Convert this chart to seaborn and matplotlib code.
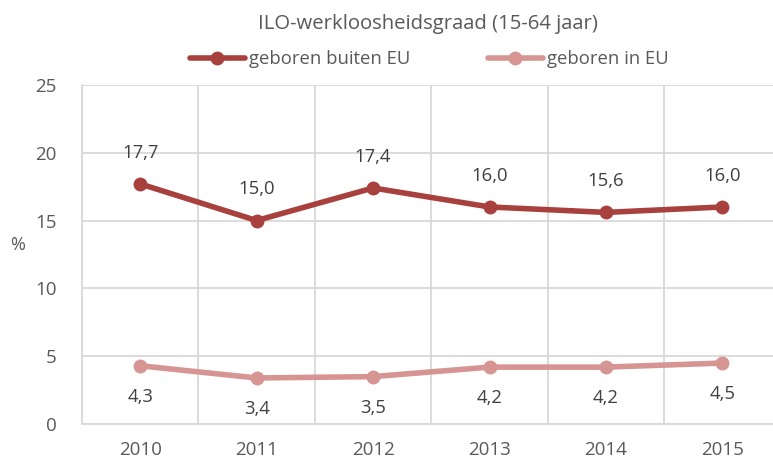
import pandas as pd
import seaborn as sns
import matplotlib.pyplot as plt
from matplotlib.ticker import MultipleLocator

years = ["2010", "2011", "2012", "2013", "2014", "2015"]
buiten_eu = [17.7, 15.0, 17.4, 16.0, 15.6, 16.0]
in_eu = [4.3, 3.4, 3.5, 4.2, 4.2, 4.5]
series_names = ["geboren buiten EU", "geboren in EU"]
colors = ["#A8403D", "#D69492"]

df = pd.DataFrame({"jaar": years, series_names[0]: buiten_eu, series_names[1]: in_eu})
df_long = df.melt(id_vars="jaar", var_name="groep", value_name="pct")
df_long["x"] = df_long["jaar"].map({y: i for i, y in enumerate(years)})

sns.set_style("white")
plt.rcParams["font.family"] = ["Open Sans", "DejaVu Sans"]
text_col = "#595959"

fig = plt.figure(figsize=(7.73, 4.61), dpi=100)
ax = fig.add_axes([0.106, 0.080, 0.904, 0.736])

sns.lineplot(data=df_long, x="x", y="pct", hue="groep", palette=colors,
             marker="o", markersize=10, markeredgewidth=0, linewidth=4,
             ax=ax, legend=False)

for i, v in enumerate(buiten_eu):
    ax.annotate(f"{v:.1f}".replace(".", ","), (i, v), xytext=(0, 16),
                textcoords="offset points", ha="center", va="bottom",
                fontsize=13.3, color="#404040")
for i, v in enumerate(in_eu):
    ax.annotate(f"{v:.1f}".replace(".", ","), (i, v), xytext=(0, -16),
                textcoords="offset points", ha="center", va="top",
                fontsize=13.3, color="#404040")

ax.set_xlim(-0.5, 5.5)
ax.set_ylim(0, 25)
ax.yaxis.set_major_locator(MultipleLocator(5))
ax.set_xticks(range(len(years)))
ax.set_xticklabels(years)
ax.set_xticks([i - 0.5 for i in range(len(years) + 1)], minor=True)
ax.tick_params(axis="both", which="both", length=0, labelsize=13.5,
               colors=text_col)
ax.tick_params(axis="y", pad=18)
ax.tick_params(axis="x", pad=12)
ax.grid(True, axis="y", which="major", color="#D9D9D9", linewidth=1.3)
ax.grid(True, axis="x", which="minor", color="#D9D9D9", linewidth=1.3)
ax.grid(False, axis="x", which="major")
for s in ["top", "right"]:
    ax.spines[s].set_visible(False)
for s in ["left", "bottom"]:
    ax.spines[s].set_color("#D9D9D9")
    ax.spines[s].set_linewidth(1.3)
ax.set_xlabel("")
ax.set_ylabel("%", rotation=0, fontsize=13, color=text_col)
ax.yaxis.set_label_coords(-0.092, 0.5)

fig.text(0.554, 0.948, "ILO-werkloosheidsgraad (15-64 jaar)", ha="center",
         va="center", fontsize=14.6, color=text_col)

handles = [plt.Line2D([], [], color=c, linewidth=4, marker="o", markersize=10,
                      markeredgewidth=0) for c in colors]
fig.legend(handles, series_names, loc="center", bbox_to_anchor=(0.555, 0.872),
           ncol=2, frameon=False, fontsize=13.3, labelcolor=text_col,
           handlelength=3.0, handletextpad=0.2, columnspacing=4.2)

fig.savefig("out.png", dpi=100)
